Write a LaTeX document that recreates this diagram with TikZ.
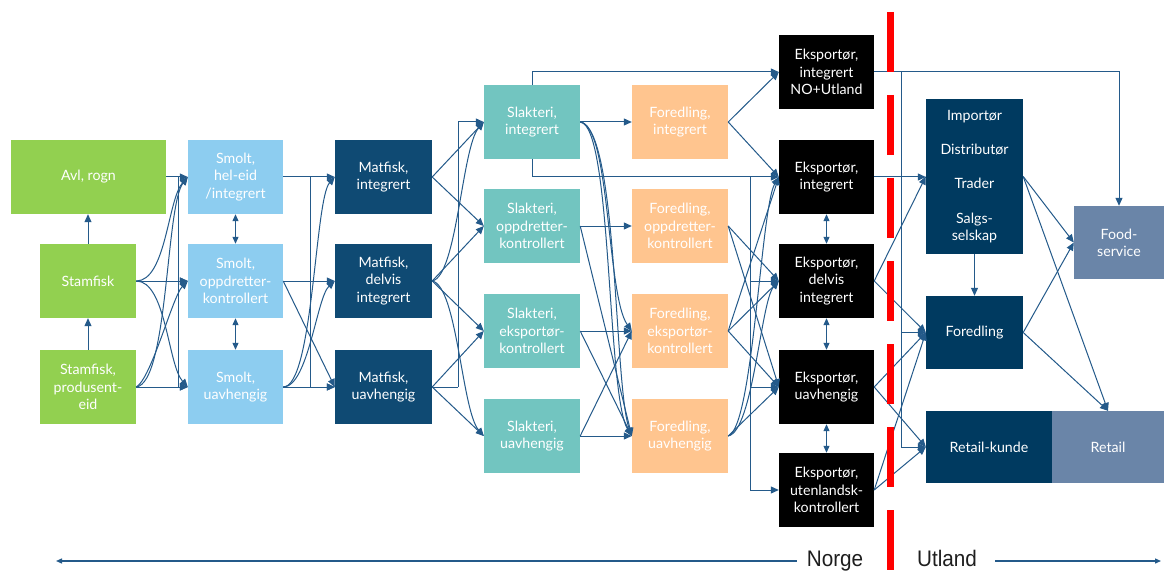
\documentclass[tikz,border=0pt]{standalone}
\usepackage{fontspec}
\setmainfont{Lato}
\newfontfamily\bottomfont[FakeStretch=0.92]{Liberation Sans}
\usetikzlibrary{arrows.meta}
\definecolor{lc}{HTML}{245A8A}
\definecolor{cgreen}{HTML}{92D050}
\definecolor{clblue}{HTML}{8DCDF0}
\definecolor{cmat}{HTML}{0F4A73}
\definecolor{cteal}{HTML}{72C5C0}
\definecolor{cpeach}{HTML}{FFC58F}
\definecolor{cnavy}{HTML}{003A60}
\definecolor{cslate}{HTML}{6A85A8}
\definecolor{cred}{HTML}{FF0000}
\definecolor{ctext}{HTML}{1E1E1E}
\tikzset{
 bx/.style={rectangle, inner sep=0pt, minimum height=74pt, align=center, text=white, font=\fontsize{14.2}{17.3}\selectfont},
 grn/.style={bx, fill=cgreen},
 lbl/.style={bx, fill=clblue, minimum width=95pt},
 mat/.style={bx, fill=cmat, minimum width=97pt},
 tea/.style={bx, fill=cteal, minimum width=96pt},
 pea/.style={bx, fill=cpeach, minimum width=96pt},
 blk/.style={bx, fill=black, minimum width=95pt},
 nav/.style={bx, fill=cnavy},
 sla/.style={bx, fill=cslate},
 conn/.style={draw=lc, line width=1pt, -{Triangle[length=8pt,width=7pt]}},
 plain/.style={draw=lc, line width=1pt},
 dbl/.style={draw=lc, line width=1pt, {Triangle[length=7pt,width=6pt]}-{Triangle[length=7pt,width=6pt]}},
 axis/.style={draw=lc, line width=1.3pt, -{Triangle[length=6pt,width=5pt]}},
 lbltxt/.style={text=ctext, font=\bottomfont\fontsize{22.5}{24}\selectfont, inner sep=0pt}
}
\begin{document}
\begin{tikzpicture}[x=1pt,y=-1pt]
\useasboundingbox (0,0) rectangle (1164,572);
\fill[white] (0,0) rectangle (1164,572);

% column 1
\node[grn, minimum width=155pt] (avl) at (88.5,177) {Avl, rogn};
\node[grn, minimum width=96pt] (stam) at (88,281) {Stamfisk};
\node[grn, minimum width=96pt] (stamp) at (88,387) {Stamfisk,\\produsent-\\eid};
% smolt
\node[lbl] (s1) at (235.5,177) {Smolt,\\hel-eid\\/integrert};
\node[lbl] (s2) at (235.5,281) {Smolt,\\oppdretter-\\kontrollert};
\node[lbl] (s3) at (235.5,387) {Smolt,\\uavhengig};
% matfisk
\node[mat] (m1) at (383.5,177) {Matfisk,\\integrert};
\node[mat] (m2) at (383.5,281) {Matfisk,\\delvis\\integrert};
\node[mat] (m3) at (383.5,387) {Matfisk,\\uavhengig};
% slakteri
\node[tea] (k1) at (532,122) {Slakteri,\\integrert};
\node[tea] (k2) at (532,226) {Slakteri,\\oppdretter-\\kontrollert};
\node[tea] (k3) at (532,331) {Slakteri,\\eksportør-\\kontrollert};
\node[tea] (k4) at (532,436) {Slakteri,\\uavhengig};
% foredling
\node[pea] (f1) at (680,122) {Foredling,\\integrert};
\node[pea] (f2) at (680,226) {Foredling,\\oppdretter-\\kontrollert};
\node[pea] (f3) at (680,331) {Foredling,\\eksportør-\\kontrollert};
\node[pea] (f4) at (680,436) {Foredling,\\uavhengig};
% eksportør
\node[blk] (e1) at (826.5,72) {Eksportør,\\integrert\\NO+Utland};
\node[blk] (e2) at (826.5,177) {Eksportør,\\integrert};
\node[blk] (e3) at (826.5,281) {Eksportør,\\delvis\\integrert};
\node[blk] (e4) at (826.5,387) {Eksportør,\\uavhengig};
\node[blk] (e5) at (826.5,490) {Eksportør,\\utenlandsk-\\kontrollert};
% right side
\node[nav, minimum width=97pt, minimum height=155pt] (imp) at (974.5,176.5) {Importør\\[17pt]Distributør\\[17pt]Trader\\[17pt]Salgs-\\selskap};
\node[sla, minimum width=90pt, minimum height=73pt] (fs) at (1119,242.5) {Food-\\service};
\node[nav, minimum width=97pt, minimum height=73pt] (for) at (974.5,332.5) {Foredling};
\node[nav, minimum width=126pt, minimum height=72pt] (rk) at (989,447) {Retail-kunde};
\node[sla, minimum width=112pt, minimum height=72pt] (ret) at (1108,447) {Retail};

% bus coordinates
\coordinate (ba) at (178,177);
\coordinate (bs) at (310,177);
\coordinate (bm) at (458,387);
\coordinate (bk) at (750,177);
\coordinate (be) at (901,72);

% column 1 connectors
\draw[conn] (stam.north) -- (stam.north |- avl.south);
\draw[conn] (stamp.north) -- (stam.south);
\draw[conn] (avl.east) -- (s1.west);
\draw[conn] (ba) |- (s2.west);
\draw[conn] (ba) |- (s3.west);
\draw[conn] (stam.east) -- (s2.west);
\draw[conn] (stam.east) .. controls +(30,0) and +(-20,22) .. (s1.west);
\draw[conn] (stam.east) .. controls +(30,0) and +(-20,-22) .. (s3.west);
\draw[conn] (stamp.east) -- (s3.west);
\draw[conn] (stamp.east) .. controls +(15,-8) and +(-15,15) .. (s2.west);
\draw[conn] (stamp.east) .. controls +(32,-4) and +(-22,28) .. (s1.west);
% smolt double arrows
\draw[dbl] (s1.south) -- (s2.north);
\draw[dbl] (s2.south) -- (s3.north);
% smolt -> matfisk
\draw[conn] (s1.east) -- (m1.west);
\draw[conn] (bs) |- (m3.west);
\draw[conn] (s2.east) -- (m2.west);
\draw[conn] (s2.east) -- (m3.west);
\draw[conn] (s3.east) -- (m3.west);
\draw[conn] (s3.east) .. controls +(30,0) and +(-20,22) .. (m1.west);
\draw[conn] (s3.east) .. controls +(25,0) and +(-18,16) .. (m2.west);
% matfisk -> slakteri
\draw[conn] (m1.east) -- (k1.west);
\draw[conn] (m1.east) -- (k2.west);
\draw[conn] (m2.east) -- (k2.west);
\draw[conn] (m2.east) -- (k3.west);
\draw[conn] (m2.east) .. controls +(25,-5) and +(-22,25) .. (k1.west);
\draw[conn] (m2.east) .. controls +(25,5) and +(-22,-25) .. (k4.west);
\draw[conn] (m3.east) -- (k3.west);
\draw[conn] (m3.east) -- (k4.west);
\draw[plain] (m3.east) -- (bm);
\draw[conn] (bm) |- (k1.west);
% slakteri -> foredling / eksportør
\draw[conn] (k1.north) |- (e1.west);
\draw[conn] (k1.south) |- (e2.west);
\draw[conn] (bk) |- (e3.west);
\draw[conn] (bk) |- (e4.west);
\draw[conn] (bk) |- (e5.west);
\draw[conn] (k1.east) -- (f1.west);
\draw[conn] (k1.east) .. controls +(30,3) and +(-25,-35) .. (f3.west);
\draw[conn] (k1.east) .. controls +(32,3) and +(-25,-40) .. (f4.west);
\draw[conn] (k1.east) .. controls +(38,6) and +(-18,-50) .. (f4.west);
\draw[conn] (k2.east) -- (f2.west);
\draw[conn] (k2.east) -- (f4.west);
\draw[conn] (k3.east) -- (f3.west);
\draw[conn] (k3.east) -- (f4.west);
\draw[conn] (k4.east) -- (f4.west);
\draw[conn] (k4.east) -- (f3.west);
% foredling -> eksportør
\draw[conn] (f1.east) -- (e1.west);
\draw[conn] (f1.east) -- (e2.west);
\draw[conn] (f2.east) -- (e3.west);
\draw[conn] (f2.east) -- (e4.west);
\draw[conn] (f3.east) -- (e2.west);
\draw[conn] (f3.east) -- (e3.west);
\draw[conn] (f3.east) -- (e4.west);
\draw[conn] (f4.east) -- (e4.west);
\draw[conn] (f4.east) .. controls +(25,-8) and +(-18,30) .. (e2.west);
\draw[conn] (f4.east) .. controls +(25,-5) and +(-18,20) .. (e3.west);
% eksportør double arrows
\draw[dbl] (e2.south) -- (e3.north);
\draw[dbl] (e3.south) -- (e4.north);
\draw[dbl] (e4.south) -- (e5.north);
% eksportør -> right
\draw[conn] (e1.east) -| (fs.north);
\draw[conn] (be) |- (for.west);
\draw[conn] (be) |- (rk.west);
\draw[conn] (e2.east) -- (e2.east -| imp.west);
\draw[conn] (e3.east) -- (imp.west);
\draw[conn] (e3.east) -- (for.west);
\draw[conn] (e4.east) -- (for.west);
\draw[conn] (e4.east) -- (rk.west);
\draw[conn] (e5.east) -- (for.west);
\draw[conn] (e5.east) -- (rk.west);
% right side
\draw[conn] (imp.south) -- (for.north);
\draw[conn] (imp.east) -- (fs.west);
\draw[conn] (imp.east) -- (ret.north);
\draw[conn] (for.east) -- (fs.west);
\draw[conn] (for.east) -- (ret.north);

% bottom axis
\node[lbltxt, anchor=base] (norge) at (835,566) {Norge};
\node[lbltxt, anchor=base] (utland) at (947,566) {Utland};
\coordinate (lend) at (56,561);
\coordinate (rend) at (1161,561);
\draw[axis] (norge.west |- lend) ++(-10,0) -- (lend);
\draw[axis] (utland.east |- rend) ++(18,0) -- (rend);

% border line
\draw[cred, line width=7pt, dash pattern=on 60pt off 23pt] (890.5,12) -- (890.5,572);
\end{tikzpicture}
\end{document}
